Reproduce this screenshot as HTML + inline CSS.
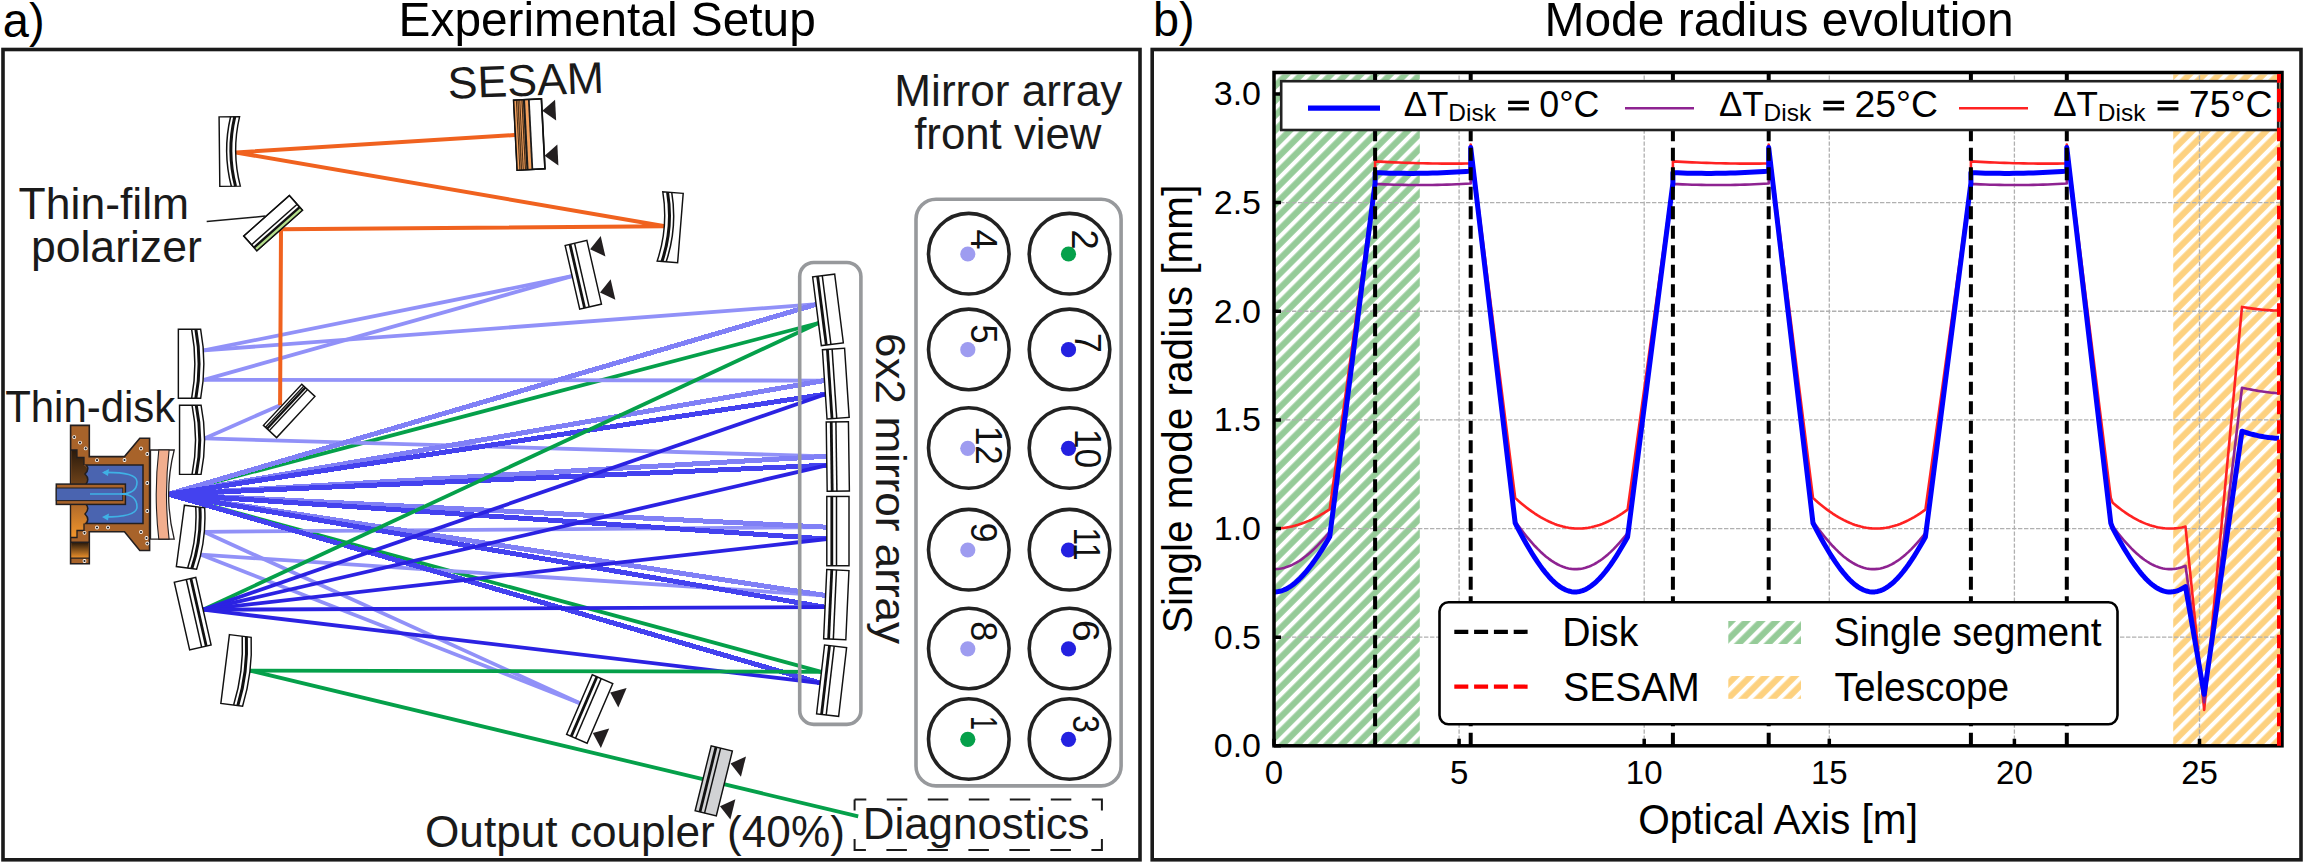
<!DOCTYPE html><html><head><meta charset="utf-8"><style>html,body{margin:0;padding:0;background:#fff;overflow:hidden}svg{display:block}</style></head><body>
<svg width="2304" height="863" viewBox="0 0 2304 863" font-family='"Liberation Sans", sans-serif'>
<rect width="2304" height="863" fill="#fff"/>
<rect x="3" y="49.5" width="1137" height="810.3" fill="none" stroke="#1a1a1a" stroke-width="3.6"/>
<rect x="1152.2" y="49.5" width="1148.8" height="810.3" fill="none" stroke="#1a1a1a" stroke-width="3.6"/>
<text x="2.84" y="36.60" font-size="48.00" fill="#000" textLength="41.77" lengthAdjust="spacingAndGlyphs">a)</text>
<text x="1152.98" y="36.10" font-size="48.00" fill="#000" textLength="41.63" lengthAdjust="spacingAndGlyphs">b)</text>
<text x="398.60" y="35.90" font-size="49.00" fill="#000" textLength="417.18" lengthAdjust="spacingAndGlyphs">Experimental Setup</text>
<text x="1544.48" y="35.80" font-size="49.00" fill="#000" textLength="469.25" lengthAdjust="spacingAndGlyphs">Mode radius evolution</text>
<defs>
<clipPath id="ax"><rect x="1274.0" y="72.5" width="1008.0" height="673.3"/></clipPath>
<pattern id="hg" patternUnits="userSpaceOnUse" width="10.465" height="20" patternTransform="rotate(45)"><rect width="10.465" height="20" fill="#95cb98"/><rect x="2.76" width="4.24" height="20" fill="#fff"/></pattern>
<pattern id="ho" patternUnits="userSpaceOnUse" width="10.465" height="20" patternTransform="rotate(45)"><rect width="10.465" height="20" fill="#fdd17f"/><rect x="2.76" width="4.24" height="20" fill="#fff"/></pattern>
</defs>
<rect x="1274.0" y="74.5" width="145.79999999999995" height="671.3" fill="url(#hg)"/>
<rect x="2173.2" y="74.5" width="108.80000000000018" height="671.3" fill="url(#ho)"/>
<path d="M1274.0 637.16 H2282.0 M1274.0 528.53 H2282.0 M1274.0 419.89 H2282.0 M1274.0 311.26 H2282.0 M1274.0 202.62 H2282.0 M1274.0 93.99 H2282.0 M1459.1 745.8 V72.5 M1644.2 745.8 V72.5 M1829.3 745.8 V72.5 M2014.4 745.8 V72.5 M2199.5 745.8 V72.5" stroke="#b0b0b0" stroke-width="1.3" stroke-dasharray="4.4 1.6" fill="none"/>
<g clip-path="url(#ax)" fill="none" stroke-linejoin="round">
<path d="M1274 528.53 L1275.39 528.52 L1276.79 528.48 L1278.18 528.42 L1279.57 528.33 L1280.96 528.22 L1282.36 528.08 L1283.75 527.92 L1285.14 527.73 L1286.53 527.52 L1287.92 527.28 L1289.32 527.02 L1290.71 526.73 L1292.1 526.42 L1293.5 526.08 L1294.89 525.72 L1296.28 525.34 L1297.67 524.93 L1299.07 524.5 L1300.46 524.05 L1301.85 523.57 L1303.24 523.07 L1304.63 522.54 L1306.03 521.99 L1307.42 521.42 L1308.81 520.82 L1310.2 520.21 L1311.6 519.57 L1312.99 518.91 L1314.38 518.22 L1315.78 517.52 L1317.17 516.79 L1318.56 516.04 L1319.95 515.27 L1321.35 514.48 L1322.74 513.67 L1324.13 512.84 L1325.52 511.98 L1326.91 511.11 L1328.31 510.22 L1329.7 509.3 L1375.1 180.9 L1375.1 161.34 L1379.88 161.62 L1384.66 161.87 L1389.44 162.11 L1394.22 162.33 L1399 162.54 L1403.78 162.73 L1408.56 162.9 L1413.34 163.05 L1418.12 163.18 L1422.9 163.3 L1427.68 163.4 L1432.46 163.48 L1437.24 163.55 L1442.02 163.59 L1446.8 163.63 L1451.58 163.64 L1456.36 163.63 L1461.14 163.61 L1465.92 163.57 L1470.7 163.52 L1470.7 144.61 L1515.2 497.89 L1518.01 500.53 L1520.82 502.94 L1523.63 505.26 L1526.44 507.48 L1529.25 509.61 L1532.06 511.63 L1534.87 513.55 L1537.68 515.37 L1540.49 517.08 L1543.3 518.68 L1546.11 520.16 L1548.92 521.53 L1551.73 522.78 L1554.54 523.92 L1557.35 524.93 L1560.16 525.82 L1562.97 526.59 L1565.78 527.23 L1568.59 527.74 L1571.4 528.13 L1574.21 528.38 L1577.02 528.51 L1579.83 528.51 L1582.64 528.39 L1585.45 528.13 L1588.26 527.74 L1591.07 527.23 L1593.88 526.59 L1596.69 525.83 L1599.5 524.94 L1602.31 523.92 L1605.12 522.79 L1607.93 521.54 L1610.74 520.17 L1613.55 518.69 L1616.36 517.09 L1619.17 515.38 L1621.98 513.56 L1624.79 511.64 L1627.6 509.62 L1672.9 180.9 L1672.9 161.34 L1677.69 161.62 L1682.48 161.87 L1687.27 162.11 L1692.06 162.33 L1696.85 162.54 L1701.64 162.73 L1706.43 162.9 L1711.22 163.05 L1716.01 163.18 L1720.8 163.3 L1725.59 163.4 L1730.38 163.48 L1735.17 163.55 L1739.96 163.59 L1744.75 163.63 L1749.54 163.64 L1754.33 163.63 L1759.12 163.61 L1763.91 163.57 L1768.7 163.52 L1768.7 144.61 L1813 497.89 L1815.81 500.53 L1818.62 502.94 L1821.43 505.26 L1824.24 507.48 L1827.05 509.61 L1829.86 511.63 L1832.67 513.55 L1835.48 515.37 L1838.29 517.08 L1841.1 518.68 L1843.91 520.16 L1846.72 521.53 L1849.53 522.78 L1852.34 523.92 L1855.15 524.93 L1857.96 525.82 L1860.77 526.59 L1863.58 527.23 L1866.39 527.74 L1869.2 528.13 L1872.01 528.38 L1874.82 528.51 L1877.63 528.51 L1880.44 528.39 L1883.25 528.13 L1886.06 527.74 L1888.87 527.23 L1891.68 526.59 L1894.49 525.83 L1897.3 524.94 L1900.11 523.92 L1902.92 522.79 L1905.73 521.54 L1908.54 520.17 L1911.35 518.69 L1914.16 517.09 L1916.97 515.38 L1919.78 513.56 L1922.59 511.64 L1925.4 509.62 L1970.9 180.9 L1970.9 161.34 L1975.7 161.62 L1980.49 161.87 L1985.29 162.11 L1990.08 162.33 L1994.88 162.54 L1999.67 162.73 L2004.47 162.9 L2009.26 163.05 L2014.06 163.18 L2018.85 163.3 L2023.64 163.4 L2028.44 163.48 L2033.24 163.55 L2038.03 163.59 L2042.83 163.63 L2047.62 163.64 L2052.41 163.63 L2057.21 163.61 L2062.01 163.57 L2066.8 163.52 L2066.8 144.61 L2110.8 497.89 L2112.67 502.8 L2114.54 504.36 L2116.4 505.88 L2118.27 507.36 L2120.14 508.8 L2122.01 510.19 L2123.87 511.53 L2125.74 512.83 L2127.61 514.08 L2129.48 515.29 L2131.34 516.44 L2133.21 517.55 L2135.08 518.61 L2136.95 519.62 L2138.81 520.58 L2140.68 521.48 L2142.55 522.33 L2144.41 523.13 L2146.28 523.88 L2148.15 524.57 L2150.02 525.21 L2151.89 525.8 L2153.75 526.32 L2155.62 526.8 L2157.49 527.21 L2159.36 527.57 L2161.22 527.87 L2163.09 528.12 L2164.96 528.31 L2166.83 528.44 L2168.69 528.51 L2170.56 528.53 L2172.43 528.49 L2174.3 528.39 L2176.16 528.23 L2178.03 528.02 L2179.9 527.75 L2181.76 527.42 L2183.63 527.04 L2185.5 526.59 L2204.2 709.95 L2242 306.91 L2243.85 307.24 L2245.7 307.56 L2247.55 307.86 L2249.4 308.14 L2251.25 308.41 L2253.1 308.66 L2254.95 308.9 L2256.8 309.12 L2258.65 309.33 L2260.5 309.52 L2262.35 309.7 L2264.2 309.86 L2266.05 310.01 L2267.9 310.14 L2269.75 310.26 L2271.6 310.36 L2273.45 310.44 L2275.3 310.51 L2277.15 310.57 L2279 310.61" stroke="#ff2222" stroke-width="2.6"/>
<path d="M1274 569.16 L1275.39 569.13 L1276.79 569.06 L1278.18 568.93 L1279.57 568.75 L1280.96 568.52 L1282.36 568.23 L1283.75 567.9 L1285.14 567.51 L1286.53 567.08 L1287.92 566.6 L1289.32 566.06 L1290.71 565.48 L1292.1 564.85 L1293.5 564.17 L1294.89 563.44 L1296.28 562.67 L1297.67 561.85 L1299.07 560.98 L1300.46 560.07 L1301.85 559.12 L1303.24 558.12 L1304.63 557.08 L1306.03 555.99 L1307.42 554.87 L1308.81 553.7 L1310.2 552.49 L1311.6 551.25 L1312.99 549.96 L1314.38 548.64 L1315.78 547.28 L1317.17 545.88 L1318.56 544.45 L1319.95 542.98 L1321.35 541.48 L1322.74 539.95 L1324.13 538.38 L1325.52 536.78 L1326.91 535.15 L1328.31 533.49 L1329.7 531.8 L1375.1 183.94 L1375.1 183.94 L1379.88 184.17 L1384.66 184.37 L1389.44 184.54 L1394.22 184.69 L1399 184.81 L1403.78 184.9 L1408.56 184.97 L1413.34 185.02 L1418.12 185.03 L1422.9 185.03 L1427.68 184.99 L1432.46 184.93 L1437.24 184.84 L1442.02 184.73 L1446.8 184.59 L1451.58 184.43 L1456.36 184.24 L1461.14 184.02 L1465.92 183.77 L1470.7 183.51 L1470.7 146.13 L1515.2 521.36 L1518.01 525.36 L1520.82 529.14 L1523.63 532.8 L1526.44 536.32 L1529.25 539.7 L1532.06 542.94 L1534.87 546.02 L1537.68 548.94 L1540.49 551.69 L1543.3 554.26 L1546.11 556.65 L1548.92 558.85 L1551.73 560.86 L1554.54 562.66 L1557.35 564.25 L1560.16 565.62 L1562.97 566.78 L1565.78 567.71 L1568.59 568.41 L1571.4 568.89 L1574.21 569.13 L1577.02 569.13 L1579.83 568.91 L1582.64 568.45 L1585.45 567.76 L1588.26 566.84 L1591.07 565.7 L1593.88 564.33 L1596.69 562.75 L1599.5 560.96 L1602.31 558.97 L1605.12 556.78 L1607.93 554.4 L1610.74 551.84 L1613.55 549.1 L1616.36 546.19 L1619.17 543.11 L1621.98 539.89 L1624.79 536.51 L1627.6 533 L1672.9 183.94 L1672.9 183.94 L1677.69 184.17 L1682.48 184.37 L1687.27 184.54 L1692.06 184.69 L1696.85 184.81 L1701.64 184.9 L1706.43 184.97 L1711.22 185.02 L1716.01 185.03 L1720.8 185.03 L1725.59 184.99 L1730.38 184.93 L1735.17 184.84 L1739.96 184.73 L1744.75 184.59 L1749.54 184.43 L1754.33 184.24 L1759.12 184.02 L1763.91 183.77 L1768.7 183.51 L1768.7 146.13 L1813 521.36 L1815.81 525.36 L1818.62 529.14 L1821.43 532.8 L1824.24 536.32 L1827.05 539.7 L1829.86 542.94 L1832.67 546.02 L1835.48 548.94 L1838.29 551.69 L1841.1 554.26 L1843.91 556.65 L1846.72 558.85 L1849.53 560.86 L1852.34 562.66 L1855.15 564.25 L1857.96 565.62 L1860.77 566.78 L1863.58 567.71 L1866.39 568.41 L1869.2 568.89 L1872.01 569.13 L1874.82 569.13 L1877.63 568.91 L1880.44 568.45 L1883.25 567.76 L1886.06 566.84 L1888.87 565.7 L1891.68 564.33 L1894.49 562.75 L1897.3 560.96 L1900.11 558.97 L1902.92 556.78 L1905.73 554.4 L1908.54 551.84 L1911.35 549.1 L1914.16 546.19 L1916.97 543.11 L1919.78 539.89 L1922.59 536.51 L1925.4 533 L1970.9 183.94 L1970.9 183.94 L1975.7 184.17 L1980.49 184.37 L1985.29 184.54 L1990.08 184.69 L1994.88 184.81 L1999.67 184.9 L2004.47 184.97 L2009.26 185.02 L2014.06 185.03 L2018.85 185.03 L2023.64 184.99 L2028.44 184.93 L2033.24 184.84 L2038.03 184.73 L2042.83 184.59 L2047.62 184.43 L2052.41 184.24 L2057.21 184.02 L2062.01 183.77 L2066.8 183.51 L2066.8 146.13 L2110.8 521.36 L2112.67 526.12 L2114.54 528.61 L2116.4 531.06 L2118.27 533.44 L2120.14 535.77 L2122.01 538.03 L2123.87 540.23 L2125.74 542.37 L2127.61 544.44 L2129.48 546.44 L2131.34 548.38 L2133.21 550.23 L2135.08 552.02 L2136.95 553.72 L2138.81 555.35 L2140.68 556.89 L2142.55 558.36 L2144.41 559.73 L2146.28 561.02 L2148.15 562.22 L2150.02 563.33 L2151.89 564.35 L2153.75 565.27 L2155.62 566.1 L2157.49 566.83 L2159.36 567.47 L2161.22 568 L2163.09 568.43 L2164.96 568.77 L2166.83 569 L2168.69 569.13 L2170.56 569.16 L2172.43 569.08 L2174.3 568.91 L2176.16 568.63 L2178.03 568.25 L2179.9 567.78 L2181.76 567.2 L2183.63 566.52 L2185.5 565.75 L2204.2 702.35 L2242 387.74 L2243.85 388.15 L2245.7 388.54 L2247.55 388.92 L2249.4 389.29 L2251.25 389.64 L2253.1 389.98 L2254.95 390.31 L2256.8 390.62 L2258.65 390.93 L2260.5 391.22 L2262.35 391.49 L2264.2 391.75 L2266.05 392 L2267.9 392.24 L2269.75 392.46 L2271.6 392.68 L2273.45 392.87 L2275.3 393.06 L2277.15 393.23 L2279 393.39" stroke="#8e2391" stroke-width="2.6"/>
<path d="M1274 591.97 L1275.39 591.93 L1276.79 591.81 L1278.18 591.61 L1279.57 591.32 L1280.96 590.96 L1282.36 590.52 L1283.75 589.99 L1285.14 589.39 L1286.53 588.71 L1287.92 587.96 L1289.32 587.13 L1290.71 586.23 L1292.1 585.25 L1293.5 584.2 L1294.89 583.08 L1296.28 581.89 L1297.67 580.64 L1299.07 579.32 L1300.46 577.94 L1301.85 576.49 L1303.24 574.98 L1304.63 573.41 L1306.03 571.79 L1307.42 570.11 L1308.81 568.37 L1310.2 566.58 L1311.6 564.74 L1312.99 562.85 L1314.38 560.91 L1315.78 558.93 L1317.17 556.9 L1318.56 554.82 L1319.95 552.71 L1321.35 550.55 L1322.74 548.35 L1324.13 546.11 L1325.52 543.84 L1326.91 541.53 L1328.31 539.19 L1329.7 536.81 L1375.1 183.07 L1375.1 172.64 L1379.88 172.83 L1384.66 173 L1389.44 173.13 L1394.22 173.24 L1399 173.32 L1403.78 173.37 L1408.56 173.39 L1413.34 173.39 L1418.12 173.36 L1422.9 173.29 L1427.68 173.2 L1432.46 173.08 L1437.24 172.94 L1442.02 172.76 L1446.8 172.56 L1451.58 172.33 L1456.36 172.07 L1461.14 171.78 L1465.92 171.47 L1470.7 171.12 L1470.7 147.44 L1515.2 523.1 L1518.01 528.66 L1520.82 533.93 L1523.63 539.05 L1526.44 544.02 L1529.25 548.82 L1532.06 553.45 L1534.87 557.88 L1537.68 562.12 L1540.49 566.13 L1543.3 569.92 L1546.11 573.45 L1548.92 576.72 L1551.73 579.72 L1554.54 582.41 L1557.35 584.8 L1560.16 586.87 L1562.97 588.6 L1565.78 589.98 L1568.59 591 L1571.4 591.66 L1574.21 591.96 L1577.02 591.88 L1579.83 591.43 L1582.64 590.62 L1585.45 589.44 L1588.26 587.92 L1591.07 586.04 L1593.88 583.84 L1596.69 581.32 L1599.5 578.5 L1602.31 575.39 L1605.12 572.01 L1607.93 568.37 L1610.74 564.48 L1613.55 560.37 L1616.36 556.05 L1619.17 551.54 L1621.98 546.83 L1624.79 541.96 L1627.6 536.93 L1672.9 183.07 L1672.9 172.64 L1677.69 172.83 L1682.48 173 L1687.27 173.13 L1692.06 173.24 L1696.85 173.32 L1701.64 173.37 L1706.43 173.39 L1711.22 173.39 L1716.01 173.36 L1720.8 173.29 L1725.59 173.2 L1730.38 173.08 L1735.17 172.94 L1739.96 172.76 L1744.75 172.56 L1749.54 172.33 L1754.33 172.07 L1759.12 171.78 L1763.91 171.47 L1768.7 171.12 L1768.7 147.44 L1813 523.1 L1815.81 528.66 L1818.62 533.93 L1821.43 539.05 L1824.24 544.02 L1827.05 548.82 L1829.86 553.45 L1832.67 557.88 L1835.48 562.12 L1838.29 566.13 L1841.1 569.92 L1843.91 573.45 L1846.72 576.72 L1849.53 579.72 L1852.34 582.41 L1855.15 584.8 L1857.96 586.87 L1860.77 588.6 L1863.58 589.98 L1866.39 591 L1869.2 591.66 L1872.01 591.96 L1874.82 591.88 L1877.63 591.43 L1880.44 590.62 L1883.25 589.44 L1886.06 587.92 L1888.87 586.04 L1891.68 583.84 L1894.49 581.32 L1897.3 578.5 L1900.11 575.39 L1902.92 572.01 L1905.73 568.37 L1908.54 564.48 L1911.35 560.37 L1914.16 556.05 L1916.97 551.54 L1919.78 546.83 L1922.59 541.96 L1925.4 536.93 L1970.9 183.07 L1970.9 172.64 L1975.7 172.83 L1980.49 173 L1985.29 173.13 L1990.08 173.24 L1994.88 173.32 L1999.67 173.37 L2004.47 173.39 L2009.26 173.39 L2014.06 173.36 L2018.85 173.29 L2023.64 173.2 L2028.44 173.08 L2033.24 172.94 L2038.03 172.76 L2042.83 172.56 L2047.62 172.33 L2052.41 172.07 L2057.21 171.78 L2062.01 171.47 L2066.8 171.12 L2066.8 147.44 L2110.8 523.1 L2112.67 528.06 L2114.54 531.58 L2116.4 535.03 L2118.27 538.42 L2120.14 541.75 L2122.01 545 L2123.87 548.18 L2125.74 551.28 L2127.61 554.31 L2129.48 557.25 L2131.34 560.1 L2133.21 562.85 L2135.08 565.52 L2136.95 568.07 L2138.81 570.53 L2140.68 572.87 L2142.55 575.1 L2144.41 577.21 L2146.28 579.2 L2148.15 581.06 L2150.02 582.78 L2151.89 584.37 L2153.75 585.82 L2155.62 587.12 L2157.49 588.27 L2159.36 589.27 L2161.22 590.12 L2163.09 590.81 L2164.96 591.34 L2166.83 591.71 L2168.69 591.92 L2170.56 591.97 L2172.43 591.85 L2174.3 591.57 L2176.16 591.13 L2178.03 590.53 L2179.9 589.77 L2181.76 588.85 L2183.63 587.78 L2185.5 586.56 L2204.2 694.31 L2242 431.19 L2243.85 431.82 L2245.7 432.42 L2247.55 432.99 L2249.4 433.53 L2251.25 434.04 L2253.1 434.53 L2254.95 434.99 L2256.8 435.42 L2258.65 435.82 L2260.5 436.19 L2262.35 436.53 L2264.2 436.85 L2266.05 437.14 L2267.9 437.4 L2269.75 437.63 L2271.6 437.83 L2273.45 438.01 L2275.3 438.15 L2277.15 438.27 L2279 438.36" stroke="#0000ff" stroke-width="5"/>
</g>
<path d="M1375.1 745.8 V72.5 M1470.7 745.8 V72.5 M1672.9 745.8 V72.5 M1768.7 745.8 V72.5 M1970.9 745.8 V72.5 M2066.8 745.8 V72.5" stroke="#000" stroke-width="4" stroke-dasharray="13.05 6.45" fill="none"/>
<rect x="1274.0" y="72.5" width="1008.0" height="673.3" fill="none" stroke="#000" stroke-width="3.5"/>
<path d="M1274.0 745.8 h7 M1274.0 637.16 h7 M1274.0 528.53 h7 M1274.0 419.89 h7 M1274.0 311.26 h7 M1274.0 202.62 h7 M1274.0 93.99 h7 M1274 745.8 v-7 M1459.1 745.8 v-7 M1644.2 745.8 v-7 M1829.3 745.8 v-7 M2014.4 745.8 v-7 M2199.5 745.8 v-7" stroke="#000" stroke-width="3.5" fill="none"/>
<text x="1261" y="757.3" text-anchor="end" font-size="34">0.0</text>
<text x="1261" y="648.66" text-anchor="end" font-size="34">0.5</text>
<text x="1261" y="540.03" text-anchor="end" font-size="34">1.0</text>
<text x="1261" y="431.39" text-anchor="end" font-size="34">1.5</text>
<text x="1261" y="322.76" text-anchor="end" font-size="34">2.0</text>
<text x="1261" y="214.12" text-anchor="end" font-size="34">2.5</text>
<text x="1261" y="105.49" text-anchor="end" font-size="34">3.0</text>
<text x="1274" y="783.5" text-anchor="middle" font-size="33">0</text>
<text x="1459.1" y="783.5" text-anchor="middle" font-size="33">5</text>
<text x="1644.2" y="783.5" text-anchor="middle" font-size="33">10</text>
<text x="1829.3" y="783.5" text-anchor="middle" font-size="33">15</text>
<text x="2014.4" y="783.5" text-anchor="middle" font-size="33">20</text>
<text x="2199.5" y="783.5" text-anchor="middle" font-size="33">25</text>
<text x="1638.21" y="834.20" font-size="43.00" fill="#000" textLength="279.72" lengthAdjust="spacingAndGlyphs">Optical Axis [m]</text>
<g transform="translate(1191.5 631.3) rotate(-90)"><text x="-1.89" y="0.00" font-size="43.00" fill="#000" textLength="448.59" lengthAdjust="spacingAndGlyphs">Single mode radius [mm]</text></g>
<rect x="1281.2" y="81.2" width="997" height="48.8" fill="#fff" stroke="#222" stroke-width="2.6"/>
<path d="M1308 108.2 H1380" stroke="#0000ff" stroke-width="5.2"/>
<path d="M1625 108.2 H1694" stroke="#8e2391" stroke-width="2.6"/>
<path d="M1959 108.2 H2028" stroke="#ff2222" stroke-width="2.6"/>
<text x="1403.7" y="116.3" font-size="35">ΔT</text>
<text x="1448.3" y="121" font-size="24.5">Disk</text>
<path d="M1508.1 102.4 h20.8 M1508.1 108.9 h20.8" stroke="#000" stroke-width="3.1"/>
<text x="1539.3" y="116.5" font-size="36" textLength="60.1" lengthAdjust="spacingAndGlyphs">0°C</text>
<text x="1718.9" y="116.3" font-size="35">ΔT</text>
<text x="1763.5" y="121" font-size="24.5">Disk</text>
<path d="M1823.3 102.4 h20.8 M1823.3 108.9 h20.8" stroke="#000" stroke-width="3.1"/>
<text x="1854.5" y="116.5" font-size="36" textLength="83.5" lengthAdjust="spacingAndGlyphs">25°C</text>
<text x="2053.2" y="116.3" font-size="35">ΔT</text>
<text x="2097.8" y="121" font-size="24.5">Disk</text>
<path d="M2157.6 102.4 h20.8 M2157.6 108.9 h20.8" stroke="#000" stroke-width="3.1"/>
<text x="2188.8" y="116.5" font-size="36" textLength="83.7" lengthAdjust="spacingAndGlyphs">75°C</text>
<path d="M2279 745.8 V74.0" stroke="#ff0000" stroke-width="4" stroke-dasharray="13.6 5.9" fill="none"/>
<rect x="1439.5" y="602.3" width="678" height="122" rx="9" ry="9" fill="#fff" stroke="#000" stroke-width="2.6"/>
<path d="M1454.3 631.8 H1527.6" stroke="#000" stroke-width="4.2" stroke-dasharray="14 5.8"/>
<path d="M1454.3 686.7 H1527.6" stroke="#ff0000" stroke-width="4.2" stroke-dasharray="14 5.8"/>
<rect x="1728.3" y="621" width="72.7" height="23" fill="url(#hg)"/>
<rect x="1728.3" y="676" width="72.7" height="22.8" fill="url(#ho)"/>
<text x="1562.17" y="646.20" font-size="40.00" fill="#000" textLength="76.10" lengthAdjust="spacingAndGlyphs">Disk</text>
<text x="1563.25" y="700.80" font-size="40.00" fill="#000" textLength="136.51" lengthAdjust="spacingAndGlyphs">SESAM</text>
<text x="1833.85" y="646.10" font-size="40.00" fill="#000" textLength="267.77" lengthAdjust="spacingAndGlyphs">Single segment</text>
<text x="1834.53" y="701.20" font-size="40.00" fill="#000" textLength="174.64" lengthAdjust="spacingAndGlyphs">Telescope</text>
<path d="M168.5 494.2 L818.6 323" stroke="#05a04a" stroke-width="3.8" fill="none" stroke-linejoin="miter" />
<path d="M168.5 494.2 L821.3 671.8" stroke="#05a04a" stroke-width="3.8" fill="none" stroke-linejoin="miter" />
<path d="M204 350.4 L572 276.2" stroke="#9191f8" stroke-width="3.8" fill="none" stroke-linejoin="miter" />
<path d="M204 379.8 L572 276.2" stroke="#9191f8" stroke-width="3.8" fill="none" stroke-linejoin="miter" />
<path d="M204 350.4 L816.8 304.2" stroke="#9191f8" stroke-width="3.8" fill="none" stroke-linejoin="miter" />
<path d="M204 379.8 L824 380.6" stroke="#9191f8" stroke-width="3.8" fill="none" stroke-linejoin="miter" />
<path d="M204.5 438.4 L280.1 405.2" stroke="#9191f8" stroke-width="3.8" fill="none" stroke-linejoin="miter" />
<path d="M204.5 438.4 L826.3 456.3" stroke="#9191f8" stroke-width="3.8" fill="none" stroke-linejoin="miter" />
<path d="M203.8 531.8 L826.9 527.2" stroke="#9191f8" stroke-width="3.8" fill="none" stroke-linejoin="miter" />
<path d="M203.8 531.8 L580.5 703.4" stroke="#9191f8" stroke-width="3.8" fill="none" stroke-linejoin="miter" />
<path d="M201.1 554.7 L824.9 595.4" stroke="#9191f8" stroke-width="3.8" fill="none" stroke-linejoin="miter" />
<path d="M201.1 554.7 L580.5 703.4" stroke="#9191f8" stroke-width="3.8" fill="none" stroke-linejoin="miter" />
<path d="M168.5 494.2 L816.8 304.2" stroke="#8080f6" stroke-width="5.0" fill="none" stroke-linejoin="miter" shape-rendering="crispEdges"/>
<path d="M168.5 494.2 L824 380.6" stroke="#8080f6" stroke-width="5.0" fill="none" stroke-linejoin="miter" shape-rendering="crispEdges"/>
<path d="M168.5 494.2 L826.3 456.3" stroke="#8080f6" stroke-width="5.0" fill="none" stroke-linejoin="miter" shape-rendering="crispEdges"/>
<path d="M168.5 494.2 L826.9 527.2" stroke="#8080f6" stroke-width="5.0" fill="none" stroke-linejoin="miter" shape-rendering="crispEdges"/>
<path d="M168.5 494.2 L824.9 595.4" stroke="#8080f6" stroke-width="5.0" fill="none" stroke-linejoin="miter" shape-rendering="crispEdges"/>
<path d="M168.5 494.2 L825.4 394.2" stroke="#4442ef" stroke-width="5.0" fill="none" stroke-linejoin="miter" shape-rendering="crispEdges"/>
<path d="M168.5 494.2 L827.3 465.2" stroke="#4442ef" stroke-width="5.0" fill="none" stroke-linejoin="miter" shape-rendering="crispEdges"/>
<path d="M168.5 494.2 L826.9 539" stroke="#4442ef" stroke-width="5.0" fill="none" stroke-linejoin="miter" shape-rendering="crispEdges"/>
<path d="M168.5 494.2 L824.9 607.2" stroke="#4442ef" stroke-width="5.0" fill="none" stroke-linejoin="miter" shape-rendering="crispEdges"/>
<path d="M168.5 494.2 L820.4 683" stroke="#4442ef" stroke-width="5.0" fill="none" stroke-linejoin="miter" shape-rendering="crispEdges"/>
<path d="M203 609.7 L818.6 323" stroke="#05a04a" stroke-width="3.8" fill="none" stroke-linejoin="miter" />
<path d="M203 609.7 L825.4 394.2" stroke="#2b22e2" stroke-width="3.8" fill="none" stroke-linejoin="miter" />
<path d="M203 609.7 L827.3 465.2" stroke="#2b22e2" stroke-width="3.8" fill="none" stroke-linejoin="miter" />
<path d="M203 609.7 L826.9 539" stroke="#2b22e2" stroke-width="3.8" fill="none" stroke-linejoin="miter" />
<path d="M203 609.7 L824.9 607.2" stroke="#2b22e2" stroke-width="3.8" fill="none" stroke-linejoin="miter" />
<path d="M203 609.7 L820.4 683" stroke="#2b22e2" stroke-width="3.8" fill="none" stroke-linejoin="miter" />
<path d="M250 670.6 L821.3 671.8" stroke="#05a04a" stroke-width="3.8" fill="none" stroke-linejoin="miter" />
<path d="M250 670.6 L858.2 816.4" stroke="#05a04a" stroke-width="3.8" fill="none" stroke-linejoin="miter" />
<path d="M280.1 405.2 L281 229.3 L665 226.2 L236 152.5 L514.8 135" stroke="#f0621f" stroke-width="4.0" fill="none" stroke-linejoin="miter" />
<g transform="translate(229.7 151.5) rotate(-0.6)">
<path d="M-10.25 -34.75 L10.25 -34.75 Q1.65 0 10.25 34.75 L-10.25 34.75 Z" fill="#fff" stroke="#111" stroke-width="1.45" stroke-linejoin="miter"/>
<path d="M5.45 -34.75 Q-3.15 0 5.45 34.75" fill="none" stroke="#111" stroke-width="3.0"/>
<path d="M1.25 -34.75 Q-7.35 0 1.25 34.75" fill="none" stroke="#111" stroke-width="1.5"/>
</g>
<g transform="translate(670.2 227.2) rotate(4.6) scale(-1 1)">
<path d="M-10.25 -34.75 L10.25 -34.75 Q1.65 0 10.25 34.75 L-10.25 34.75 Z" fill="#fff" stroke="#111" stroke-width="1.45" stroke-linejoin="miter"/>
<path d="M5.45 -34.75 Q-3.15 0 5.45 34.75" fill="none" stroke="#111" stroke-width="3.0"/>
<path d="M1.25 -34.75 Q-7.35 0 1.25 34.75" fill="none" stroke="#111" stroke-width="1.5"/>
</g>
<g transform="translate(189.5 363.8) rotate(0)">
<path d="M-11.15 -34.5 L11.15 -34.5 Q17.55 0 11.15 34.5 L-11.15 34.5 Z" fill="#fff" stroke="#111" stroke-width="1.45" stroke-linejoin="miter"/>
<path d="M6.35 -34.5 Q12.75 0 6.35 34.5" fill="none" stroke="#111" stroke-width="3.0"/>
<path d="M2.15 -34.5 Q8.55 0 2.15 34.5" fill="none" stroke="#111" stroke-width="1.5"/>
</g>
<g transform="translate(190.3 439.8) rotate(0)">
<path d="M-10.75 -34.6 L10.75 -34.6 Q17.75 0 10.75 34.6 L-10.75 34.6 Z" fill="#fff" stroke="#111" stroke-width="1.45" stroke-linejoin="miter"/>
<path d="M5.95 -34.6 Q12.95 0 5.95 34.6" fill="none" stroke="#111" stroke-width="3.0"/>
<path d="M1.75 -34.6 Q8.75 0 1.75 34.6" fill="none" stroke="#111" stroke-width="1.5"/>
</g>
<g transform="translate(190.5 537.2) rotate(7.5)">
<path d="M-10.2 -30.95 L10.2 -30.95 Q16.2 0 10.2 30.95 L-10.2 30.95 Z" fill="#fff" stroke="#111" stroke-width="1.45" stroke-linejoin="miter"/>
<path d="M5.4 -30.95 Q11.4 0 5.4 30.95" fill="none" stroke="#111" stroke-width="3.0"/>
<path d="M1.2 -30.95 Q7.2 0 1.2 30.95" fill="none" stroke="#111" stroke-width="1.5"/>
</g>
<g transform="translate(236 670.4) rotate(7.1)">
<path d="M-10.95 -34.7 L10.95 -34.7 Q16.95 0 10.95 34.7 L-10.95 34.7 Z" fill="#fff" stroke="#111" stroke-width="1.45" stroke-linejoin="miter"/>
<path d="M6.15 -34.7 Q12.15 0 6.15 34.7" fill="none" stroke="#111" stroke-width="3.0"/>
<path d="M1.95 -34.7 Q7.95 0 1.95 34.7" fill="none" stroke="#111" stroke-width="1.5"/>
</g>
<g transform="translate(192.7 613.6) rotate(-12.8)">
<rect x="-11" y="-34.65" width="22" height="69.3" fill="#fff" stroke="#111" stroke-width="1.45"/>
<path d="M6 -34.65 V34.65" stroke="#111" stroke-width="2.8"/>
<path d="M1.3 -34.65 V34.65" stroke="#111" stroke-width="1.5"/>
</g>
<g transform="translate(828 309.9) rotate(-7.2)">
<rect x="-11.1" y="-34.65" width="22.2" height="69.3" fill="#fff" stroke="#111" stroke-width="1.45"/>
<path d="M-6.1 -34.65 V34.65" stroke="#111" stroke-width="2.8"/>
<path d="M-1.4 -34.65 V34.65" stroke="#111" stroke-width="1.5"/>
</g>
<g transform="translate(835.8 383.6) rotate(-3.8)">
<rect x="-11.1" y="-34.65" width="22.2" height="69.3" fill="#fff" stroke="#111" stroke-width="1.45"/>
<path d="M-6.1 -34.65 V34.65" stroke="#111" stroke-width="2.8"/>
<path d="M-1.4 -34.65 V34.65" stroke="#111" stroke-width="1.5"/>
</g>
<g transform="translate(837.8 456.5) rotate(-0.8)">
<rect x="-11.1" y="-34.65" width="22.2" height="69.3" fill="#fff" stroke="#111" stroke-width="1.45"/>
<path d="M-6.1 -34.65 V34.65" stroke="#111" stroke-width="2.8"/>
<path d="M-1.4 -34.65 V34.65" stroke="#111" stroke-width="1.5"/>
</g>
<g transform="translate(837.9 531.1) rotate(0)">
<rect x="-11.1" y="-34.65" width="22.2" height="69.3" fill="#fff" stroke="#111" stroke-width="1.45"/>
<path d="M-6.1 -34.65 V34.65" stroke="#111" stroke-width="2.8"/>
<path d="M-1.4 -34.65 V34.65" stroke="#111" stroke-width="1.5"/>
</g>
<g transform="translate(836.3 604.7) rotate(2.6)">
<rect x="-11.1" y="-34.65" width="22.2" height="69.3" fill="#fff" stroke="#111" stroke-width="1.45"/>
<path d="M-6.1 -34.65 V34.65" stroke="#111" stroke-width="2.8"/>
<path d="M-1.4 -34.65 V34.65" stroke="#111" stroke-width="1.5"/>
</g>
<g transform="translate(831.6 680.7) rotate(6.6)">
<rect x="-11.1" y="-34.65" width="22.2" height="69.3" fill="#fff" stroke="#111" stroke-width="1.45"/>
<path d="M-6.1 -34.65 V34.65" stroke="#111" stroke-width="2.8"/>
<path d="M-1.4 -34.65 V34.65" stroke="#111" stroke-width="1.5"/>
</g>
<g transform="translate(583.3 274.8) rotate(-12.9)">
<rect x="-11.15" y="-32.65" width="22.3" height="65.3" fill="#fff" stroke="#111" stroke-width="1.45"/>
<path d="M-6.15 -32.65 V32.65" stroke="#111" stroke-width="2.8"/>
<path d="M-1.45 -32.65 V32.65" stroke="#111" stroke-width="1.5"/>
<path d="M12.35 -23.5 L25.65 -34 L25.65 -13 Z" fill="#231f20"/>
<path d="M12.35 21 L25.65 10.5 L25.65 31.5 Z" fill="#231f20"/>
</g>
<g transform="translate(589.7 709) rotate(23.3)">
<rect x="-11.15" y="-32.45" width="22.3" height="64.9" fill="#fff" stroke="#111" stroke-width="1.45"/>
<path d="M-6.15 -32.45 V32.45" stroke="#111" stroke-width="2.8"/>
<path d="M-1.45 -32.45 V32.45" stroke="#111" stroke-width="1.5"/>
<path d="M12.35 -23.3 L25.65 -33.8 L25.65 -12.8 Z" fill="#231f20"/>
<path d="M12.35 20.8 L25.65 10.3 L25.65 31.3 Z" fill="#231f20"/>
</g>
<g transform="translate(713.75 780.9) rotate(13.9)">
<rect x="-10.9" y="-33.45" width="21.8" height="66.9" fill="#d1d2d4" stroke="#111" stroke-width="1.45"/>
<path d="M-5.9 -33.45 V33.45" stroke="#111" stroke-width="2.8"/>
<path d="M-1.2 -33.45 V33.45" stroke="#111" stroke-width="1.5"/>
<path d="M12.1 -21 L25.4 -31.5 L25.4 -10.5 Z" fill="#231f20"/>
<path d="M12.1 23 L25.4 12.5 L25.4 33.5 Z" fill="#231f20"/>
</g>
<g transform="translate(289.2 410.9) rotate(42.9)">
<rect x="-9" y="-28.15" width="18" height="56.3" fill="#fff" stroke="#111" stroke-width="1.45"/>
<path d="M-6.2 -28.15 V28.15" stroke="#111" stroke-width="1.3"/>
<path d="M-4 -28.15 V28.15" stroke="#111" stroke-width="2.4"/>
<path d="M-1.1 -28.15 V28.15" stroke="#111" stroke-width="1.3"/>
</g>
<g transform="translate(273.1 223.1) rotate(48.4)">
<rect x="-9.85" y="-30.5" width="19.7" height="61" fill="#fff" stroke="#111" stroke-width="1.45"/>
<rect x="6.2" y="-30.5" width="3.65" height="61" fill="#b5e08c"/>
<path d="M5.6 -30.5 V30.5" stroke="#111" stroke-width="2.4"/>
<path d="M1.9 -30.5 V30.5" stroke="#111" stroke-width="1.5"/>
<rect x="-9.85" y="-30.5" width="19.7" height="61" fill="none" stroke="#111" stroke-width="1.45"/>
</g>
<g transform="translate(529.3 134.5) rotate(-2.9)">
<rect x="-13.9" y="-35" width="27.8" height="70" fill="#fff" stroke="#111" stroke-width="1.7"/>
<rect x="-13.9" y="-35" width="15.2" height="70" fill="#f5a35f"/>
<path d="M-11.2 -35 V35" stroke="#4a2c14" stroke-width="1.0"/>
<path d="M-9.6 -35 V35" stroke="#5a3a1e" stroke-width="1.4"/>
<path d="M-7.8 -35 V35" stroke="#4a2c14" stroke-width="1.0"/>
<path d="M-5.6 -35 V35" stroke="#4a2c14" stroke-width="1.2"/>
<path d="M-3.6 -35 V35" stroke="#1d1d1d" stroke-width="2.2"/>
<path d="M1.3 -35 V35" stroke="#1d1d1d" stroke-width="1.8"/>
<rect x="-13.9" y="-35" width="27.8" height="70" fill="none" stroke="#111" stroke-width="1.45"/>
<path d="M14.2 -23 L27.5 -33.5 L27.5 -12.5 Z" fill="#231f20"/>
<path d="M14.2 22 L27.5 11.5 L27.5 32.5 Z" fill="#231f20"/>
</g>
<rect x="799.7" y="262.5" width="61.2" height="461.9" rx="14" ry="14" fill="none" stroke="#97999c" stroke-width="3.6"/>
<rect x="916" y="199.2" width="205.1" height="586.7" rx="20" ry="20" fill="none" stroke="#97999c" stroke-width="3.6"/>
<circle cx="968.8" cy="253.7" r="40.3" fill="#fff" stroke="#222" stroke-width="3.6"/>
<circle cx="967.8" cy="254" r="7.6" fill="#9e9cf0"/>
<circle cx="1069.5" cy="253.7" r="40.3" fill="#fff" stroke="#222" stroke-width="3.6"/>
<circle cx="1068.5" cy="254" r="7.6" fill="#05a04a"/>
<circle cx="968.8" cy="349.4" r="40.3" fill="#fff" stroke="#222" stroke-width="3.6"/>
<circle cx="967.8" cy="349.7" r="7.6" fill="#9e9cf0"/>
<circle cx="1069.5" cy="349.4" r="40.3" fill="#fff" stroke="#222" stroke-width="3.6"/>
<circle cx="1068.5" cy="349.7" r="7.6" fill="#2421e0"/>
<circle cx="968.8" cy="448" r="40.3" fill="#fff" stroke="#222" stroke-width="3.6"/>
<circle cx="967.8" cy="448.3" r="7.6" fill="#9e9cf0"/>
<circle cx="1069.5" cy="448" r="40.3" fill="#fff" stroke="#222" stroke-width="3.6"/>
<circle cx="1068.5" cy="448.3" r="7.6" fill="#2421e0"/>
<circle cx="968.8" cy="549.7" r="40.3" fill="#fff" stroke="#222" stroke-width="3.6"/>
<circle cx="967.8" cy="550" r="7.6" fill="#9e9cf0"/>
<circle cx="1069.5" cy="549.7" r="40.3" fill="#fff" stroke="#222" stroke-width="3.6"/>
<circle cx="1068.5" cy="550" r="7.6" fill="#2421e0"/>
<circle cx="968.8" cy="648.5" r="40.3" fill="#fff" stroke="#222" stroke-width="3.6"/>
<circle cx="967.8" cy="648.8" r="7.6" fill="#9e9cf0"/>
<circle cx="1069.5" cy="648.5" r="40.3" fill="#fff" stroke="#222" stroke-width="3.6"/>
<circle cx="1068.5" cy="648.8" r="7.6" fill="#2421e0"/>
<circle cx="968.8" cy="739" r="40.3" fill="#fff" stroke="#222" stroke-width="3.6"/>
<circle cx="967.8" cy="739.3" r="7.6" fill="#05a04a"/>
<circle cx="1069.5" cy="739" r="40.3" fill="#fff" stroke="#222" stroke-width="3.6"/>
<circle cx="1068.5" cy="739.3" r="7.6" fill="#2421e0"/>
<defs><linearGradient id="dk1" x1="0" y1="0" x2="0" y2="1"><stop offset="0" stop-color="#2a1a0c"/><stop offset="1" stop-color="#6e4219"/></linearGradient><linearGradient id="dk2" x1="0" y1="0" x2="0" y2="1"><stop offset="0" stop-color="#b06a2a"/><stop offset="1" stop-color="#f3952a"/></linearGradient><linearGradient id="dk3" x1="0" y1="0" x2="0" y2="1"><stop offset="0" stop-color="#24160a"/><stop offset="1" stop-color="#f0932c"/></linearGradient></defs>
<path d="M70.6 425.4 H89.3 V456.6 H124.5 L139.8 438.3 H149.6 V550.5 H139.8 L124.5 531.7 H89.3 V563.7 H70.6 Z" fill="#a8632a" stroke="#231f20" stroke-width="1.6" stroke-linejoin="miter"/>
<path d="M71.4 450 H77 V457.5 H84 V465 Q90 469 85 474 Q90 479 86 484 H71.4 Z" fill="url(#dk1)"/>
<path d="M71 450 H77 V457.5 H84 V465" fill="none" stroke="#231f20" stroke-width="1.3"/>
<path d="M71.4 504.3 H86 Q90 509 85 514 Q90 519 84 523.6 V530.5 H77 V537.5 H71.4 Z" fill="url(#dk2)"/>
<path d="M71 537.5 H77 V530.5 H84 V523.6" fill="none" stroke="#231f20" stroke-width="1.3"/>
<rect x="71.4" y="542.3" width="17.1" height="15.8" fill="url(#dk3)"/>
<path d="M71 542.3 H89 M71 558.1 H89" stroke="#231f20" stroke-width="1.4"/>
<path d="M86 465 H143 V523.6 H86 Q90 519 85 514 Q90 509 86 504.3 V484 Q90 479 85 474 Q90 469 86 465 Z" fill="#4a64b0" stroke="#231f20" stroke-width="1.5"/>
<rect x="56.3" y="484.1" width="69.1" height="20.3" fill="#a8632a" stroke="#231f20" stroke-width="1.5"/>
<rect x="56.3" y="488" width="66.5" height="12.6" fill="#4a64b0" stroke="#231f20" stroke-width="1.0"/>
<path d="M90 494 H120 Q137 494 137 482 Q137 472 104 472.4" fill="none" stroke="#3fb1e5" stroke-width="1.6"/>
<path d="M120 494 Q137 494 137 507 Q137 517 104 517" fill="none" stroke="#3fb1e5" stroke-width="1.6"/>
<path d="M102 472.4 L109 469 L108 476 Z M102 517 L109 513.6 L108 520.6 Z" fill="#3fb1e5"/>
<circle cx="74.2" cy="437.1" r="1.9" fill="#fff"/><circle cx="74.2" cy="437.1" r="1.1" fill="#231f20"/>
<circle cx="80" cy="442.6" r="1.9" fill="#fff"/><circle cx="80" cy="442.6" r="1.1" fill="#231f20"/>
<circle cx="85.7" cy="448.4" r="1.9" fill="#fff"/><circle cx="85.7" cy="448.4" r="1.1" fill="#231f20"/>
<circle cx="97" cy="460.2" r="1.9" fill="#fff"/><circle cx="97" cy="460.2" r="1.1" fill="#231f20"/>
<circle cx="124.5" cy="460" r="1.9" fill="#fff"/><circle cx="124.5" cy="460" r="1.1" fill="#231f20"/>
<circle cx="141" cy="448.5" r="1.9" fill="#fff"/><circle cx="141" cy="448.5" r="1.1" fill="#231f20"/>
<circle cx="147.3" cy="454" r="1.9" fill="#fff"/><circle cx="147.3" cy="454" r="1.1" fill="#231f20"/>
<circle cx="147.3" cy="483" r="1.9" fill="#fff"/><circle cx="147.3" cy="483" r="1.1" fill="#231f20"/>
<circle cx="147.3" cy="511" r="1.9" fill="#fff"/><circle cx="147.3" cy="511" r="1.1" fill="#231f20"/>
<circle cx="141" cy="532" r="1.9" fill="#fff"/><circle cx="141" cy="532" r="1.1" fill="#231f20"/>
<circle cx="146.5" cy="538" r="1.9" fill="#fff"/><circle cx="146.5" cy="538" r="1.1" fill="#231f20"/>
<circle cx="147.3" cy="543.5" r="1.9" fill="#fff"/><circle cx="147.3" cy="543.5" r="1.1" fill="#231f20"/>
<circle cx="108" cy="527.5" r="1.9" fill="#fff"/><circle cx="108" cy="527.5" r="1.1" fill="#231f20"/>
<circle cx="97" cy="527.5" r="1.9" fill="#fff"/><circle cx="97" cy="527.5" r="1.1" fill="#231f20"/>
<circle cx="84.5" cy="532.8" r="1.9" fill="#fff"/><circle cx="84.5" cy="532.8" r="1.1" fill="#231f20"/>
<circle cx="84.5" cy="561" r="1.9" fill="#fff"/><circle cx="84.5" cy="561" r="1.1" fill="#231f20"/>
<path d="M150.5 450 H174.2 Q163 494.5 174.2 539.1 H150.5 Z" fill="#fff" stroke="#231f20" stroke-width="1.3"/>
<path d="M158.8 450 H169.1 Q163.9 494.5 169.1 539.1 H158.8 Q153.6 494.5 158.8 450 Z" fill="#f2ae8e" stroke="#231f20" stroke-width="1.1"/>
<g transform="translate(450.3 98.6) rotate(-2.16)"><text x="-2.01" y="0.00" font-size="44.50" fill="#1a1a1a" textLength="156.31" lengthAdjust="spacingAndGlyphs">SESAM</text></g>
<text x="18.61" y="219.10" font-size="45.00" fill="#1a1a1a" textLength="170.56" lengthAdjust="spacingAndGlyphs">Thin-film</text>
<text x="30.93" y="261.90" font-size="45.00" fill="#1a1a1a" textLength="170.83" lengthAdjust="spacingAndGlyphs">polarizer</text>
<path d="M206.7 221.5 L265.4 216.1" stroke="#1a1a1a" stroke-width="1.5"/>
<text x="5.15" y="422.10" font-size="44.00" fill="#1a1a1a" textLength="170.14" lengthAdjust="spacingAndGlyphs">Thin-disk</text>
<text x="894.37" y="106.10" font-size="45.00" fill="#1a1a1a" textLength="227.92" lengthAdjust="spacingAndGlyphs">Mirror array</text>
<text x="914.20" y="149.00" font-size="44.00" fill="#1a1a1a" textLength="187.29" lengthAdjust="spacingAndGlyphs">front view</text>
<g transform="translate(876 335.3) rotate(90)"><text x="-2.26" y="0.00" font-size="43.00" fill="#1a1a1a" textLength="311.09" lengthAdjust="spacingAndGlyphs">6x2 mirror array</text></g>
<text x="424.99" y="846.70" font-size="44.00" fill="#1a1a1a" textLength="419.94" lengthAdjust="spacingAndGlyphs">Output coupler (40%)</text>
<text x="862.81" y="839.10" font-size="44.00" fill="#1a1a1a" textLength="226.71" lengthAdjust="spacingAndGlyphs">Diagnostics</text>
<rect x="854.6" y="799.6" width="247.3" height="50.4" fill="none" stroke="#1a1a1a" stroke-width="2" stroke-dasharray="11.7 20.5 20.5 20.5 20.5 20.5 20.5 20.5 20.5 20.5 20.5 20.5 21.1 28.4 21.5 20.5 20.5 20.5 20.5 20.5 20.5 20.5 20.5 20.5 20.5 20.5 22.3 28.4 11"/>
<g transform="translate(971.2 230.2) rotate(90)"><text x="-0.80" y="0.00" font-size="36.00" fill="#111">4</text></g>
<g transform="translate(1072.4 231.4) rotate(90)"><text x="-1.81" y="0.00" font-size="36.00" fill="#111" textLength="20.14" lengthAdjust="spacingAndGlyphs">2</text></g>
<g transform="translate(971.2 325.8) rotate(90)"><text x="-1.33" y="0.00" font-size="36.00" fill="#111" textLength="19.09" lengthAdjust="spacingAndGlyphs">5</text></g>
<g transform="translate(1075.4 334.8) rotate(90)"><text x="-1.79" y="0.00" font-size="36.00" fill="#111" textLength="19.90" lengthAdjust="spacingAndGlyphs">7</text></g>
<g transform="translate(975.6 428.5) rotate(90)"><text x="-2.62" y="0.00" font-size="36.00" fill="#111" textLength="38.92" lengthAdjust="spacingAndGlyphs">12</text></g>
<g transform="translate(1075.4 431.4) rotate(90)"><text x="-2.65" y="0.00" font-size="36.00" fill="#111" textLength="39.37" lengthAdjust="spacingAndGlyphs">10</text></g>
<g transform="translate(971.2 524.3) rotate(90)"><text x="-1.70" y="0.00" font-size="36.00" fill="#111">9</text></g>
<g transform="translate(1074.1 530) rotate(90)"><text x="-2.38" y="0.00" font-size="36.00" fill="#111" textLength="32.96" lengthAdjust="spacingAndGlyphs">11</text></g>
<g transform="translate(970.7 622.9) rotate(90)"><text x="-1.61" y="0.00" font-size="36.00" fill="#111" textLength="20.14" lengthAdjust="spacingAndGlyphs">8</text></g>
<g transform="translate(1073.4 621.6) rotate(90)"><text x="-1.98" y="0.00" font-size="36.00" fill="#111" textLength="22.07" lengthAdjust="spacingAndGlyphs">6</text></g>
<g transform="translate(970.7 717.8) rotate(90)"><text x="-1.89" y="0.00" font-size="36.00" fill="#111" textLength="13.99" lengthAdjust="spacingAndGlyphs">1</text></g>
<g transform="translate(1072.9 716.6) rotate(90)"><text x="-1.24" y="0.00" font-size="36.00" fill="#111" textLength="17.67" lengthAdjust="spacingAndGlyphs">3</text></g>
</svg></body></html>
